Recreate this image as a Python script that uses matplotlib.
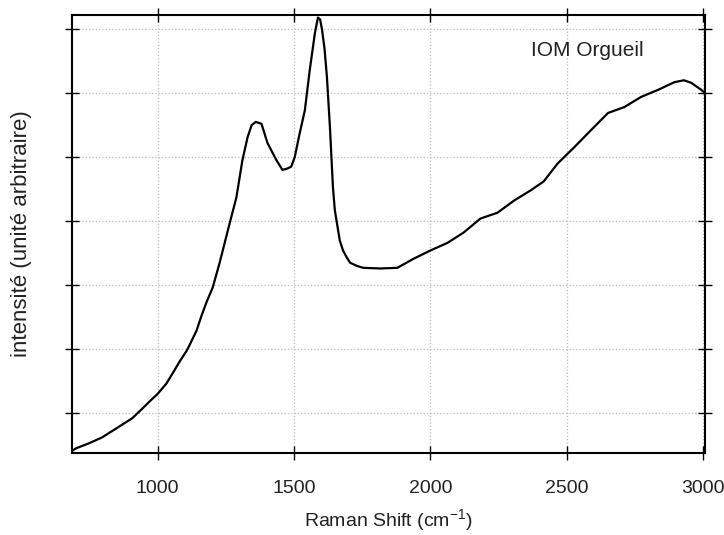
import matplotlib
matplotlib.use("Agg")
import matplotlib.pyplot as plt

plt.rcParams['font.family'] = ['Liberation Sans', 'DejaVu Sans']
plt.rcParams['mathtext.fontset'] = 'custom'
plt.rcParams['mathtext.rm'] = 'Liberation Sans'

# Raman shift (cm-1) and intensity (arbitrary units)
shift = [690, 701, 749, 796, 848, 907, 944, 970, 1000, 1032, 1055, 1080,
         1106, 1117, 1143, 1161, 1180, 1202, 1227, 1264, 1289, 1311, 1330,
         1345, 1360, 1381, 1403, 1436, 1458, 1475, 1490, 1503, 1521, 1540,
         1558, 1577, 1588, 1596, 1603, 1612, 1621, 1632, 1643, 1650, 1668,
         1680, 1694, 1706, 1731, 1754, 1817, 1879, 1938, 2000, 2063, 2122,
         2184, 2246, 2307, 2368, 2416, 2467, 2527, 2589, 2652, 2711, 2773,
         2835, 2895, 2930, 2957, 2994, 3008]
intensity = [0.42, 0.45, 0.53, 0.62, 0.76, 0.92, 1.07, 1.18, 1.30, 1.46,
             1.62, 1.80, 1.97, 2.06, 2.29, 2.52, 2.74, 2.96, 3.34, 3.96,
             4.37, 4.95, 5.31, 5.50, 5.55, 5.52, 5.22, 4.95, 4.80, 4.82,
             4.85, 5.0, 5.37, 5.73, 6.36, 6.94, 7.18, 7.15, 6.99, 6.70,
             6.25, 5.47, 4.53, 4.17, 3.70, 3.54, 3.43, 3.35, 3.30, 3.27,
             3.26, 3.27, 3.41, 3.54, 3.66, 3.82, 4.04, 4.13, 4.32, 4.48,
             4.62, 4.90, 5.15, 5.42, 5.69, 5.78, 5.94, 6.05, 6.17, 6.20,
             6.16, 6.05, 6.0]

xticks = [1000, 1500, 2000, 2500, 3000]
yticks = [1, 2, 3, 4, 5, 6, 7]

fig = plt.figure(figsize=(7.24, 5.35), dpi=100)
ax = fig.add_axes([0.099, 0.153, 0.875, 0.819])
ax.plot(shift, intensity, color='black', lw=1.6)

ax.set_xlim(685, 3008)
ax.set_ylim(0.375, 7.22)
ax.set_xticks(xticks)
ax.set_yticks(yticks)
ax.set_yticklabels([])
ax.tick_params(direction='inout', length=10, width=1, labelsize=14,
               top=True, right=True, colors='black')
ax.tick_params(axis='x', labelcolor='#222222', pad=14)
for s in ax.spines.values():
    s.set_linewidth(1.5)
ax.grid(True, color='#bbbbbb', linestyle=':', linewidth=0.9)

ax.set_xlabel(r'Raman Shift (cm$^{-1}$)', fontsize=14, color='#222222',
              va='center')
ax.xaxis.set_label_coords(0.5, -0.155)
ax.set_ylabel('intensité (unité arbitraire)', fontsize=16, color='#222222',
              va='center')
ax.yaxis.set_label_coords(-0.079, 0.5)
ax.text(2368, 6.67, 'IOM Orgueil', fontsize=15, va='center', color='#222222')

fig.savefig('out.png', dpi=100)
